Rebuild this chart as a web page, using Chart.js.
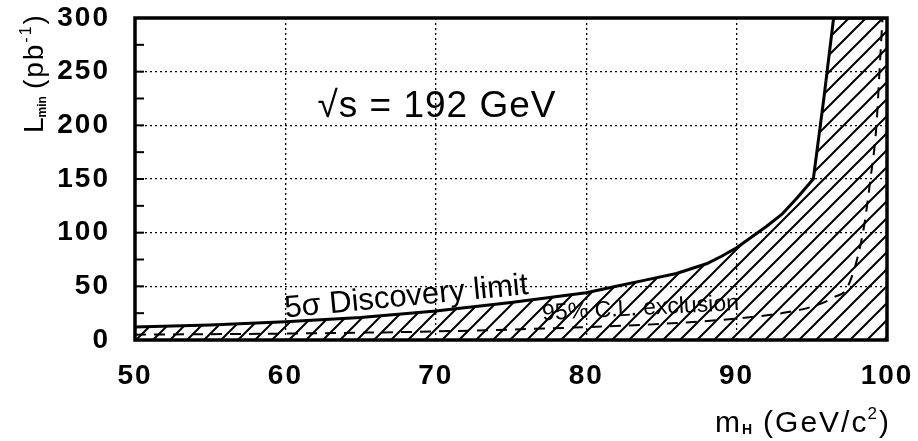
<!DOCTYPE html>
<html>
<head>
<meta charset="utf-8">
<script src="https://cdn.jsdelivr.net/npm/chart.js@4/dist/chart.umd.min.js"></script>
<style>
  html, body { margin: 0; padding: 0; background: #fff; }
  #wrap { width: 918px; height: 441px; }
</style>
</head>
<body>
<div id="wrap"><canvas id="c" width="918" height="441"></canvas></div>
<script>
// Higgs mass (GeV/c^2) and minimal luminosity (pb^-1) at sqrt(s) = 192 GeV
const massDiscovery = [50, 55, 60, 65, 70, 75, 80, 82, 84, 86, 88, 89, 90, 91, 92, 93, 94, 95.1, 95.8, 96.45, 100];
const lumiDiscovery = [12, 14, 17, 21, 27, 35, 44, 50, 56, 62, 71, 78, 86, 96, 106, 117, 132, 150, 225, 300, 300];

const massExclusion = [50, 60, 70, 80, 85, 90, 93, 95, 96.5, 97.4, 98.4, 98.9, 99.3, 99.5, 99.7];
const lumiExclusion = [5, 6, 8, 12, 15, 20, 25, 31, 40, 50, 100, 150, 200, 250, 300];

const xTicks = [50, 60, 70, 80, 90, 100];
const yTicks = [0, 50, 100, 150, 200, 250, 300];
const yMinorStep = 25;

const FONT = "'Liberation Sans', Arial, Helvetica, sans-serif";

function hatchPattern(size, width) {
  const c = document.createElement('canvas');
  c.width = size; c.height = size;
  const g = c.getContext('2d');
  g.strokeStyle = '#000';
  g.lineWidth = width;
  g.lineCap = 'square';
  g.beginPath();
  g.moveTo(-2, size + 2); g.lineTo(size + 2, -2);
  g.moveTo(-2, 2); g.lineTo(2, -2);
  g.moveTo(size - 2, size + 2); g.lineTo(size + 2, size - 2);
  g.stroke();
  return g.createPattern(c, 'repeat');
}

const toXY = (xs, ys) => xs.map((x, i) => ({ x: x, y: ys[i] }));

// wider letter spacing for the tick labels
const spacing = {
  id: 'spacing',
  beforeDraw(chart) { chart.ctx.letterSpacing = '2px'; }
};

// Frame, inward minor ticks and all free text
const decorations = {
  id: 'decorations',
  afterDatasetsDraw(chart) {
    const { ctx, chartArea: a, scales } = chart;
    const xs = scales.x, ys = scales.y;
    ctx.save();
    ctx.letterSpacing = '0px';
    ctx.strokeStyle = '#000';
    ctx.lineWidth = 2;
    for (let v = 0; v <= 300; v += yMinorStep) {
      const py = ys.getPixelForValue(v);
      ctx.beginPath();
      ctx.moveTo(a.left, py);
      ctx.lineTo(a.left + 9, py);
      ctx.stroke();
    }
    ctx.lineWidth = 3.5;
    ctx.strokeRect(a.left, a.top, a.right - a.left, a.bottom - a.top);

    ctx.fillStyle = '#000';
    // energy label
    ctx.font = '37px ' + FONT;
    ctx.letterSpacing = '1px';
    ctx.textAlign = 'center';
    ctx.textBaseline = 'alphabetic';
    ctx.fillText('\u221As = 192 GeV', 437, 117);
    ctx.letterSpacing = '0px';

    // curve labels
    ctx.textAlign = 'left';
    ctx.save();
    ctx.translate(xs.getPixelForValue(60), ys.getPixelForValue(21));
    ctx.rotate(-5.5 * Math.PI / 180);
    ctx.font = '31px ' + FONT;
    ctx.fillText('5\u03C3 Discovery limit', 0, 0);
    ctx.restore();

    ctx.save();
    ctx.translate(xs.getPixelForValue(77.1), ys.getPixelForValue(18.5));
    ctx.rotate(-3 * Math.PI / 180);
    ctx.font = '23px ' + FONT;
    ctx.fillText('95% C.L. exclusion', 0, 0);
    ctx.restore();

    // x axis title: m_H (GeV/c^2)
    let x = 715;
    const by = 432;
    ctx.letterSpacing = '2px';
    ctx.font = '30px ' + FONT;
    ctx.fillText('m', x, by); x += ctx.measureText('m').width;
    ctx.font = 'bold 14px ' + FONT;
    ctx.fillText('H', x, by + 2); x += ctx.measureText('H').width + 9;
    ctx.font = '30px ' + FONT;
    ctx.fillText('(GeV/c', x, by); x += ctx.measureText('(GeV/c').width - 1;
    ctx.font = '17px ' + FONT;
    ctx.fillText('2', x, by - 13); x += ctx.measureText('2').width;
    ctx.font = '30px ' + FONT;
    ctx.fillText(')', x, by);

    // y axis title: L_min (pb^-1), rotated
    ctx.save();
    ctx.translate(43, 133);
    ctx.rotate(-Math.PI / 2);
    let t = 0;
    ctx.font = '28px ' + FONT;
    ctx.fillText('L', t, 0); t += ctx.measureText('L').width - 2;
    ctx.font = 'bold 12px ' + FONT;
    ctx.letterSpacing = '0px';
    ctx.fillText('min', t, 3); t += ctx.measureText('min').width + 7;
    ctx.letterSpacing = '2px';
    ctx.font = '28px ' + FONT;
    ctx.fillText('(pb', t, 0); t += ctx.measureText('(pb').width;
    ctx.font = '16px ' + FONT;
    ctx.fillText('-1', t, -12); t += ctx.measureText('-1').width;
    ctx.font = '28px ' + FONT;
    ctx.fillText(')', t, 0);
    ctx.restore();

    ctx.restore();
  }
};

new Chart(document.getElementById('c'), {
  type: 'line',
  data: {
    datasets: [
      {
        label: '5\u03C3 Discovery limit',
        data: toXY(massDiscovery, lumiDiscovery),
        borderColor: '#000',
        borderWidth: 3,
        borderJoinStyle: 'round',
        pointRadius: 0,
        tension: 0,
        fill: 'origin',
        backgroundColor: hatchPattern(17, 2)
      },
      {
        label: '95% C.L. exclusion',
        data: toXY(massExclusion, lumiExclusion),
        borderColor: '#000',
        borderWidth: 2,
        borderDash: [11, 8],
        pointRadius: 0,
        cubicInterpolationMode: 'monotone',
        fill: false
      }
    ]
  },
  options: {
    responsive: false,
    animation: false,
    devicePixelRatio: 1,
    layout: { padding: { top: 18, right: 31, left: 0, bottom: 0 } },
    plugins: { legend: { display: false }, tooltip: { enabled: false } },
    scales: {
      x: {
        type: 'linear',
        min: 50, max: 100,
        afterFit(s) { s.height = 101; s.paddingLeft = 0; s.paddingRight = 0; },
        afterBuildTicks(s) { s.ticks = xTicks.map(v => ({ value: v })); },
        ticks: { color: '#000', padding: 19, font: { family: FONT, size: 28, weight: 'bold' } },
        grid: { color: '#000', lineWidth: 1.3, drawTicks: false },
        border: { display: false, dash: [2, 3] }
      },
      y: {
        type: 'linear',
        min: 0, max: 300,
        afterFit(s) { s.width = 135; s.paddingTop = 0; s.paddingBottom = 0; },
        afterBuildTicks(s) { s.ticks = yTicks.map(v => ({ value: v })); },
        ticks: { color: '#000', padding: 25, font: { family: FONT, size: 28, weight: 'bold' } },
        grid: { color: '#000', lineWidth: 1.3, drawTicks: false },
        border: { display: false, dash: [2, 3] }
      }
    }
  },
  plugins: [spacing, decorations]
});
</script>
</body>
</html>
